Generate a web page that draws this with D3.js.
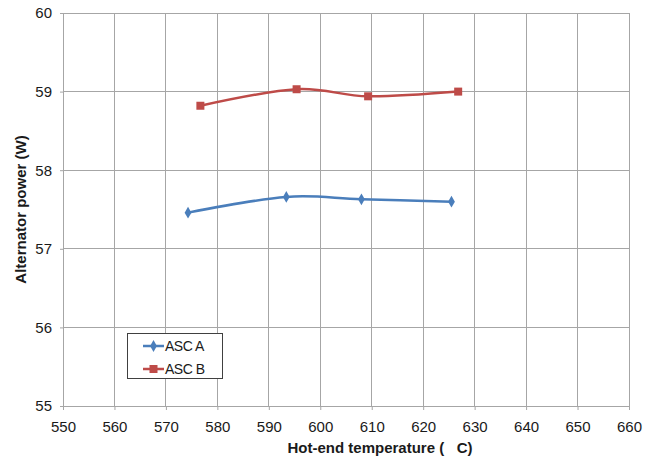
<!DOCTYPE html>
<html><head><meta charset="utf-8">
<script src="https://cdn.jsdelivr.net/npm/d3@7"></script>
<style>body{margin:0;background:#fff;} text{font-family:"Liberation Sans",Arial,sans-serif;}</style>
</head><body>
<svg id="c" width="650" height="457"></svg>
<script>
const xTicks = [550,560,570,580,590,600,610,620,630,640,650,660];
const yTicks = [55,56,57,58,59,60];
const seriesNames = ["ASC A","ASC B"];
const ascA_x = [574.3, 593.4, 608.0, 625.5];
const ascA_y = [57.46, 57.66, 57.63, 57.60];
const ascB_x = [576.7, 595.4, 609.3, 626.8];
const ascB_y = [58.82, 59.03, 58.94, 59.00];
const colors = ["#4a7ebb","#be4b48"];

const svg = d3.select("#c");
const L=63, R=629, T=13, B=406;
const x = d3.scaleLinear().domain([550,660]).range([L,R]);
const y = d3.scaleLinear().domain([55,60]).range([B,T]);

// grid
svg.append("g").selectAll("line.v").data(xTicks).join("line")
  .attr("x1",d=>x(d)).attr("x2",d=>x(d)).attr("y1",T).attr("y2",B)
  .attr("stroke","#a6a6a6").attr("stroke-width",1).attr("shape-rendering","crispEdges");
svg.append("g").selectAll("line.h").data(yTicks).join("line")
  .attr("x1",L).attr("x2",R).attr("y1",d=>y(d)).attr("y2",d=>y(d))
  .attr("stroke","#a6a6a6").attr("stroke-width",1).attr("shape-rendering","crispEdges");

const xAxis = svg.append("g").attr("transform",`translate(0,${B})`)
  .call(d3.axisBottom(x).tickValues(xTicks).tickSize(4).tickPadding(11).tickFormat(d3.format("d")));
const yAxis = svg.append("g").attr("transform",`translate(${L},0)`)
  .call(d3.axisLeft(y).tickValues(yTicks).tickSize(3).tickPadding(8).tickFormat(d3.format("d")));
[xAxis,yAxis].forEach(a=>{
  a.select(".domain").attr("stroke","#a6a6a6");
  a.selectAll(".tick line").attr("stroke","#a6a6a6");
  a.selectAll("text").attr("font-size",15).attr("fill","#1a1a1a").attr("font-family","Liberation Sans, Arial, sans-serif");
});

const line = d3.line().x(d=>x(d[0])).y(d=>y(d[1])).curve(d3.curveCatmullRom.alpha(0));
const dataA = ascA_x.map((v,i)=>[v,ascA_y[i]]);
const dataB = ascB_x.map((v,i)=>[v,ascB_y[i]]);

svg.append("path").datum(dataA).attr("d",line).attr("fill","none").attr("stroke",colors[0]).attr("stroke-width",2.5);
svg.append("path").datum(dataB).attr("d",line).attr("fill","none").attr("stroke",colors[1]).attr("stroke-width",2.5);

svg.append("g").selectAll("path").data(dataA).join("path")
  .attr("transform",d=>`translate(${x(d[0])},${y(d[1])})`)
  .attr("d",d3.symbol().type(d3.symbolDiamond).size(40)).attr("fill",colors[0]);
svg.append("g").selectAll("rect").data(dataB).join("rect")
  .attr("x",d=>x(d[0])-4).attr("y",d=>y(d[1])-4).attr("width",8).attr("height",8).attr("fill",colors[1]);

// legend
const lg = svg.append("g");
lg.append("rect").attr("x",127.5).attr("y",333.5).attr("width",95).attr("height",45)
  .attr("fill","#fff").attr("stroke","#404040").attr("stroke-width",1);
[0,1].forEach(i=>{
  const yy = 346 + i*23;
  lg.append("line").attr("x1",143).attr("x2",164).attr("y1",yy).attr("y2",yy).attr("stroke",colors[i]).attr("stroke-width",2.5);
  if(i===0) lg.append("path").attr("transform",`translate(153.5,${yy})`).attr("d",d3.symbol().type(d3.symbolDiamond).size(40)).attr("fill",colors[0]);
  else lg.append("rect").attr("x",149.5).attr("y",yy-4).attr("width",8).attr("height",8).attr("fill",colors[1]);
  lg.append("text").attr("x",165).attr("y",yy+5).attr("font-size",14).attr("fill","#1a1a1a").attr("letter-spacing","-0.5").text(seriesNames[i]);
});

svg.append("text").attr("x",380).attr("y",453).attr("text-anchor","middle")
  .attr("font-size",15).attr("font-weight","bold").attr("fill","#1a1a1a").attr("xml:space","preserve")
  .style("white-space","pre").text("Hot-end temperature (   C)");
svg.append("text").attr("transform",`translate(26,${(T+B)/2}) rotate(-90)`).attr("text-anchor","middle")
  .attr("font-size",15).attr("font-weight","bold").attr("fill","#1a1a1a").text("Alternator power (W)");
</script>
</body></html>
